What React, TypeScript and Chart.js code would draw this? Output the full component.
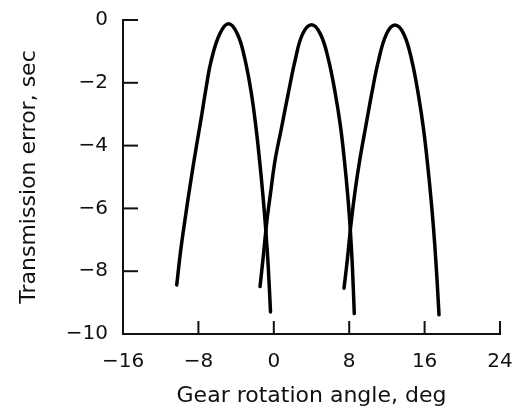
import React, { useEffect, useRef } from "react";
import { Chart, registerables } from "chart.js";

Chart.register(...registerables);

// Gear rotation angle (deg) and transmission error (sec)
const tooth1Angle = [-10.3, -9.85, -9.35, -8.82, -8.25, -7.65, -7.15, -6.65, -5.75, -4.8, -3.85, -3.1, -2.4, -1.9, -1.5, -1.15, -0.85, -0.6, -0.35];
const tooth1Error = [-8.44, -7.27, -6.21, -5.15, -4.09, -3.03, -2.1, -1.3, -0.45, -0.12, -0.45, -1.2, -2.3, -3.4, -4.5, -5.6, -6.7, -7.8, -9.3];

const tooth2Angle = [-1.46, -1.1, -0.74, -0.34, 0.14, 0.84, 1.54, 2.25, 3.05, 4.02, 4.95, 5.75, 6.5, 7.08, 7.5, 7.85, 8.12, 8.33, 8.54];
const tooth2Error = [-8.49, -7.48, -6.42, -5.5, -4.46, -3.4, -2.33, -1.3, -0.45, -0.15, -0.45, -1.2, -2.3, -3.4, -4.5, -5.6, -6.7, -7.8, -9.35];

const tooth3Angle = [7.45, 7.8, 8.16, 8.6, 9.12, 9.75, 10.4, 11.1, 11.95, 12.85, 13.8, 14.65, 15.35, 15.9, 16.3, 16.65, 16.95, 17.2, 17.4, 17.53];
const tooth3Error = [-8.54, -7.64, -6.58, -5.5, -4.46, -3.4, -2.33, -1.3, -0.45, -0.16, -0.45, -1.3, -2.4, -3.5, -4.55, -5.6, -6.65, -7.7, -8.7, -9.39];

const xTickValues = [-16, -8, 0, 8, 16, 24];
const yTickValues = [-10, -8, -6, -4, -2, 0];

const xTitle = "Gear rotation angle, deg";
const yTitle = "Transmission error, sec";

const fmt = (v: number) => (v < 0 ? "\u2212" + Math.abs(v) : String(v));

const toPoints = (xs: number[], ys: number[]) => xs.map((x, i) => ({ x, y: ys[i] }));

const inwardTicks = {
  id: "inwardTicks",
  afterDraw(chart: any) {
    const { ctx, chartArea, scales } = chart;
    ctx.save();
    ctx.strokeStyle = "#111";
    ctx.lineWidth = 2;
    xTickValues.forEach((v) => {
      const px = scales.x.getPixelForValue(v);
      ctx.beginPath();
      ctx.moveTo(px, chartArea.bottom);
      ctx.lineTo(px, chartArea.bottom - 13);
      ctx.stroke();
    });
    yTickValues.forEach((v) => {
      const py = scales.y.getPixelForValue(v);
      ctx.beginPath();
      ctx.moveTo(chartArea.left, py);
      ctx.lineTo(chartArea.left + 15, py);
      ctx.stroke();
    });
    ctx.restore();
  },
};

export default function App() {
  const ref = useRef<HTMLCanvasElement>(null);
  useEffect(() => {
    if (!ref.current) return;
    const font = { family: "'DejaVu Sans', sans-serif", size: 20 };
    const titleFont = { family: "'DejaVu Sans', sans-serif", size: 22 };
    const lineStyle = {
      borderColor: "#000",
      borderWidth: 3.5,
      pointRadius: 0,
      fill: false,
      tension: 0.4,
      borderCapStyle: "round" as const,
      borderJoinStyle: "round" as const,
    };
    const chart = new Chart(ref.current, {
      type: "line",
      data: {
        datasets: [
          { data: toPoints(tooth1Angle, tooth1Error), ...lineStyle },
          { data: toPoints(tooth2Angle, tooth2Error), ...lineStyle },
          { data: toPoints(tooth3Angle, tooth3Error), ...lineStyle },
        ],
      },
      options: {
        animation: false,
        responsive: false,
        devicePixelRatio: 1,
        layout: { padding: { left: 16, right: 13, top: 20, bottom: 0 } },
        plugins: { legend: { display: false }, tooltip: { enabled: false } },
        scales: {
          x: {
            type: "linear",
            min: -16,
            max: 24,
            afterBuildTicks: (s: any) => {
              s.ticks = xTickValues.map((value) => ({ value }));
            },
            afterFit: (s: any) => {
              s.height = 85;
              s.paddingLeft = 0;
              s.paddingRight = 0;
            },
            grid: { display: false, drawTicks: false },
            border: { display: true, color: "#111", width: 2 },
            ticks: { color: "#111", font, padding: 16, callback: (v: any) => fmt(Number(v)), maxRotation: 0 },
            title: { display: true, text: xTitle, color: "#111", font: titleFont, padding: { top: 4, bottom: 10 } },
          },
          y: {
            type: "linear",
            min: -10,
            max: 0,
            afterBuildTicks: (s: any) => {
              s.ticks = yTickValues.map((value) => ({ value }));
            },
            afterFit: (s: any) => {
              s.width = 107;
              s.paddingTop = 0;
              s.paddingBottom = 0;
            },
            grid: { display: false, drawTicks: false },
            border: { display: true, color: "#111", width: 2 },
            ticks: { color: "#111", font, padding: 15, callback: (v: any) => fmt(Number(v)) },
            title: { display: true, text: yTitle, color: "#111", font: titleFont, padding: { top: 0, bottom: 0 } },
          },
        },
      },
      plugins: [inwardTicks],
    });
    return () => chart.destroy();
  }, []);
  return (
    <div style={{ position: "fixed", left: 0, top: 0, width: 513, height: 419, background: "#fff" }}>
      <canvas ref={ref} width={513} height={419} style={{ display: "block" }} />
    </div>
  );
}
